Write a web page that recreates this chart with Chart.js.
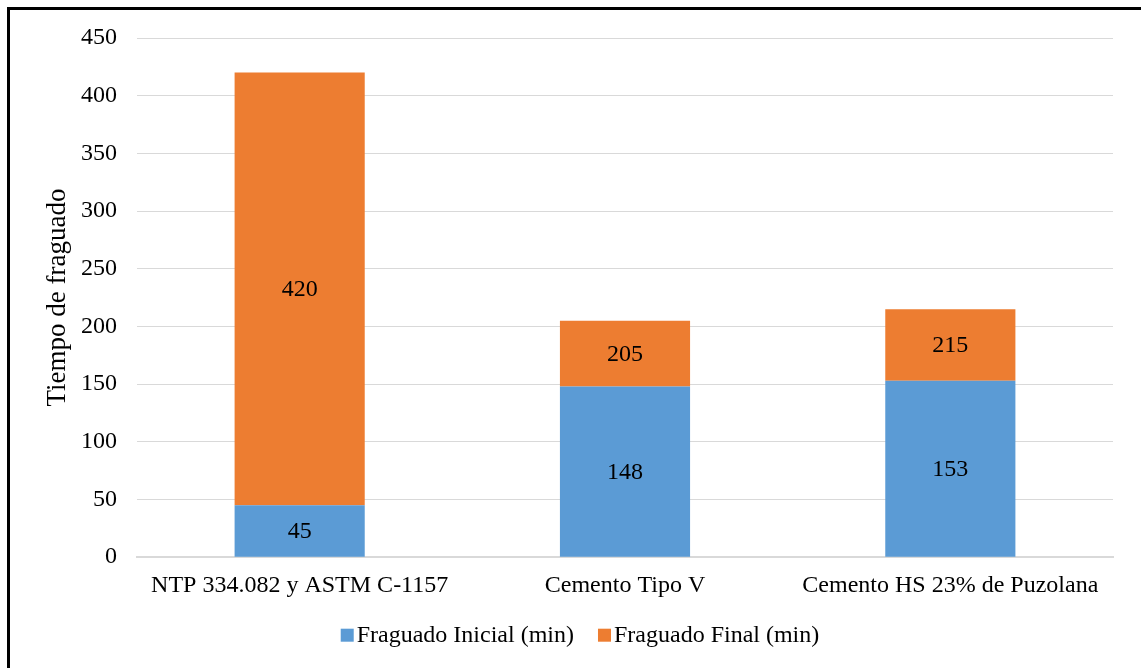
<!DOCTYPE html>
<html>
<head>
<meta charset="utf-8">
<script src="https://cdn.jsdelivr.net/npm/chart.js@4/dist/chart.umd.min.js"></script>
<style>
  html, body { margin: 0; padding: 0; background: #fff; overflow: hidden; }
  #wrap { position: absolute; left: 0; top: 0; width: 1141px; height: 668px; }
  #frame { position: absolute; left: 7px; top: 7px; width: 1160px; height: 700px;
           border-left: 3px solid #000; border-top: 3px solid #000; box-sizing: border-box; }
  canvas { position: absolute; left: 0; top: 0; }
</style>
</head>
<body>
<div id="wrap">
  <div id="frame"></div>
  <canvas id="c" width="1141" height="668"></canvas>
</div>
<script>
// Setting times per cement type, in minutes
const categories = ['NTP 334.082 y ASTM C-1157', 'Cemento Tipo V', 'Cemento HS 23% de Puzolana'];
const fraguadoInicial = [45, 148, 153];
const fraguadoFinal = [420, 205, 215];
const yTicks = [0, 50, 100, 150, 200, 250, 300, 350, 400, 450];

const FONT = "'Liberation Serif', 'Times New Roman', serif";
const BLUE = '#5B9BD5';
const ORANGE = '#ED7D31';
const FS = 24;

// Writes each value in the middle of its visible bar segment
const barLabels = {
  id: 'barLabels',
  afterDatasetsDraw(chart) {
    const ctx = chart.ctx;
    ctx.save();
    ctx.font = FS + 'px ' + FONT;
    ctx.fillStyle = '#000';
    ctx.textAlign = 'center';
    ctx.textBaseline = 'middle';
    chart.data.datasets.forEach((ds, di) => {
      const meta = chart.getDatasetMeta(di);
      meta.data.forEach((bar, i) => {
        const p = bar.getProps(['x', 'y', 'base'], true);
        const text = di === 0 ? fraguadoInicial[i] : fraguadoFinal[i];
        ctx.fillText(String(text), p.x, (p.y + p.base) / 2 + 1);
      });
    });
    ctx.restore();
  }
};

// Vertical axis title and a compact legend under the category labels
const extras = {
  id: 'extras',
  afterDraw(chart) {
    const ctx = chart.ctx;
    const a = chart.chartArea;
    ctx.save();
    ctx.fillStyle = '#000';
    ctx.textBaseline = 'middle';

    ctx.font = '27px ' + FONT;
    ctx.textAlign = 'center';
    ctx.save();
    ctx.translate(a.left - 79, (a.top + a.bottom) / 2);
    ctx.rotate(-Math.PI / 2);
    ctx.fillText('Tiempo de fraguado', 0, 0);
    ctx.restore();

    ctx.font = FS + 'px ' + FONT;
    ctx.textAlign = 'left';
    const box = 13, gapText = 3, gapItem = 24;
    const items = chart.data.datasets.map(d => ({ label: d.label, color: d.backgroundColor, w: ctx.measureText(d.label).width }));
    const total = items.reduce((s, it) => s + box + gapText + it.w, 0) + gapItem * (items.length - 1);
    let x = 580 - total / 2;
    const cy = a.bottom + 78;
    items.forEach(it => {
      ctx.fillStyle = it.color;
      ctx.fillRect(x, cy - box / 2, box, box);
      ctx.fillStyle = '#000';
      ctx.fillText(it.label, x + box + gapText, cy + 1);
      x += box + gapText + it.w + gapItem;
    });
    ctx.restore();
  }
};

new Chart(document.getElementById('c'), {
  type: 'bar',
  data: {
    labels: categories,
    datasets: [
      {
        label: 'Fraguado Inicial (min)',
        data: fraguadoInicial.map(v => [0, v]),
        backgroundColor: BLUE,
        grouped: false
      },
      {
        label: 'Fraguado Final (min)',
        data: fraguadoFinal.map((v, i) => [fraguadoInicial[i], v]),
        backgroundColor: ORANGE,
        grouped: false
      }
    ]
  },
  options: {
    responsive: false,
    animation: false,
    devicePixelRatio: 1,
    layout: { padding: { left: 40, right: 28, top: 38, bottom: 54 } },
    datasets: { bar: { barPercentage: 0.4, categoryPercentage: 1.0 } },
    scales: {
      x: {
        grid: { display: false, drawTicks: false },
        border: { display: true, color: '#d9d9d9', width: 2 },
        ticks: { color: '#000', font: { family: FONT, size: FS }, padding: 14, maxRotation: 0 }
      },
      y: {
        min: 0,
        max: 450,
        afterBuildTicks(scale) { scale.ticks = yTicks.map(v => ({ value: v })); },
        afterFit(scale) { scale.width = 97; },
        grid: { color: '#d9d9d9', lineWidth: 1, drawTicks: false },
        border: { display: false },
        ticks: { color: '#000', font: { family: FONT, size: FS }, padding: 20 }
      }
    },
    plugins: {
      tooltip: { enabled: false },
      legend: { display: false }
    }
  },
  plugins: [barLabels, extras]
});
</script>
</body>
</html>
